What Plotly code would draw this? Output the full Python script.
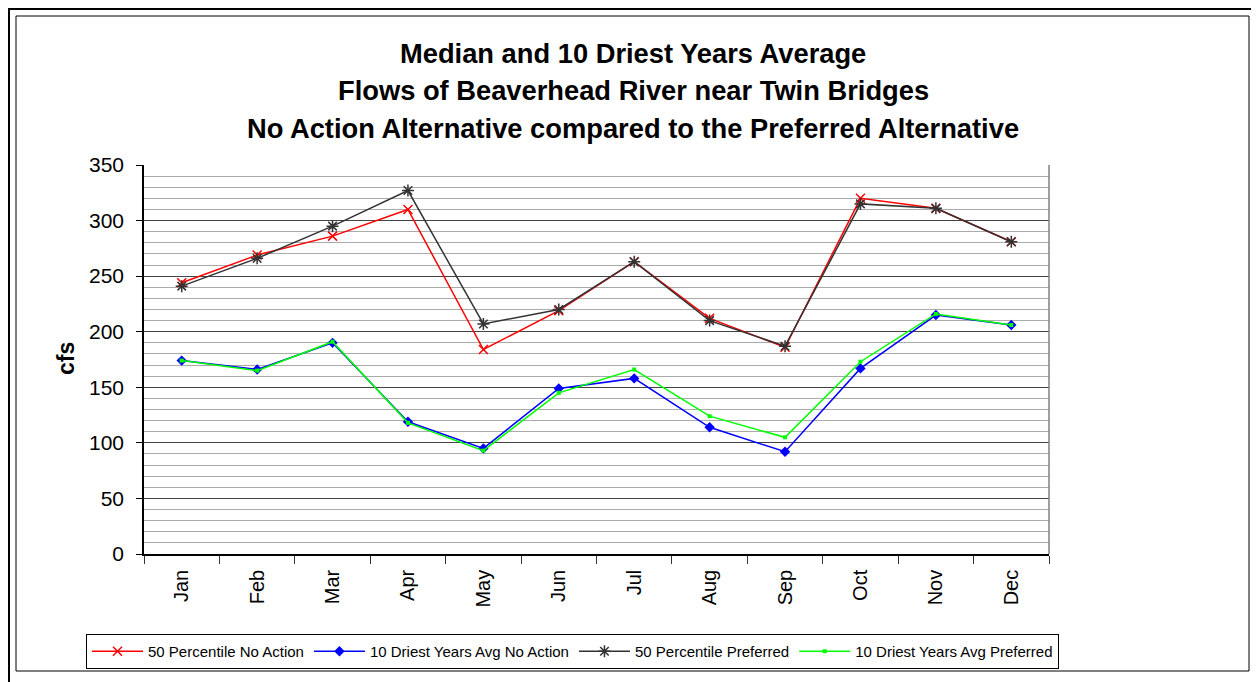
import plotly.graph_objects as go

months = ["Jan", "Feb", "Mar", "Apr", "May", "Jun", "Jul", "Aug", "Sep", "Oct", "Nov", "Dec"]
p50_no_action = [244, 269, 286, 310, 184, 219, 263, 212, 186, 320, 311, 281]
dry10_no_action = [174, 166, 190, 119, 95, 149, 158, 114, 92, 167, 215, 206]
p50_preferred = [241, 266, 295, 327, 207, 220, 263, 210, 187, 315, 311, 281]
dry10_preferred = [174, 165, 191, 118, 93, 145, 166, 124, 105, 173, 216, 206]

title_lines = [
    "Median and 10 Driest Years Average",
    "Flows of Beaverhead River near Twin Bridges",
    "No Action Alternative compared to the Preferred Alternative",
]

# page body has an 8px margin, so the figure is drawn 8px smaller and positions shifted
OFF = 8
W, H = 1259 - OFF, 682 - OFF
L, R, T, B = 144 - OFF, 1049 - OFF, 165 - OFF, 554 - OFF
FONT = "Arial, Liberation Sans, sans-serif"


def px(x):
    return (x - OFF - L) / (R - L)


def py(y):
    return (B - (y - OFF)) / (B - T)


fig = go.Figure()
fig.add_trace(go.Scatter(
    x=months, y=p50_no_action, name="50 Percentile No Action", mode="lines+markers",
    line=dict(color="#FF0000", width=1.5),
    marker=dict(symbol="x-thin", size=9, line=dict(color="#FF0000", width=1.5))))
fig.add_trace(go.Scatter(
    x=months, y=dry10_no_action, name="10 Driest Years Avg No Action", mode="lines+markers",
    line=dict(color="#0000FF", width=1.5),
    marker=dict(symbol="diamond", size=8, color="#0000FF")))
fig.add_trace(go.Scatter(
    x=months, y=p50_preferred, name="50 Percentile Preferred", mode="lines+markers",
    line=dict(color="#333333", width=1.5),
    marker=dict(symbol="asterisk", size=10, line=dict(color="#333333", width=1.5))))
fig.add_trace(go.Scatter(
    x=months, y=dry10_preferred, name="10 Driest Years Avg Preferred", mode="lines+markers",
    line=dict(color="#00FF00", width=1.5),
    marker=dict(symbol="square", size=4, color="#00FF00")))

annotations = []
for i, t in enumerate(title_lines):
    annotations.append(dict(
        text="<b>%s</b>" % t, xref="paper", yref="paper", x=px(633), y=py(54 + 37 * i),
        xanchor="center", yanchor="middle", showarrow=False,
        font=dict(family=FONT, size=27.3, color="black")))
annotations.append(dict(
    text="<b>cfs</b>", xref="paper", yref="paper", x=px(66), y=py(359),
    xanchor="center", yanchor="middle", showarrow=False, textangle=-90,
    font=dict(family=FONT, size=23, color="black")))

shapes = [
    dict(type="rect", xref="paper", yref="paper", x0=px(8), x1=px(1256), y0=py(8), y1=py(686),
         line=dict(color="black", width=4)),
    dict(type="rect", xref="paper", yref="paper", x0=px(16), x1=px(1249), y0=py(16), y1=py(671),
         line=dict(color="black", width=1)),
    dict(type="line", xref="paper", yref="paper", x0=1, x1=1, y0=0, y1=1,
         line=dict(color="#808080", width=1.5)),
]

fig.update_layout(
    width=W, height=H,
    margin=dict(l=L, r=W - R, t=T, b=H - B),
    paper_bgcolor="white", plot_bgcolor="white",
    showlegend=True,
    legend=dict(orientation="h", x=px(86), y=py(634), xanchor="left", yanchor="top",
                bordercolor="black", borderwidth=1, bgcolor="white",
                font=dict(family=FONT, size=15, color="black"), itemwidth=51),
    annotations=annotations, shapes=shapes,
    font=dict(family=FONT, color="black"),
)
fig.update_xaxes(
    type="category", tickangle=-90, tickson="boundaries", ticks="outside", ticklen=8,
    tickcolor="#333333", showline=True, linecolor="black", linewidth=1.5, showgrid=False,
    ticklabelstandoff=6,
    tickfont=dict(family=FONT, size=20, color="black"), range=[-0.5, 11.5])
fig.update_yaxes(
    range=[0, 350], dtick=50, tick0=0, ticks="outside", ticklen=6, tickcolor="black",
    showline=True, linecolor="black", linewidth=1.5,
    showgrid=True, gridcolor="#444444", gridwidth=1, zeroline=False,
    minor=dict(dtick=10, showgrid=True, gridcolor="#AAAAAA", gridwidth=1),
    ticklabelstandoff=8,
    tickfont=dict(family=FONT, size=21, color="black"))

fig.write_html("out.html")
